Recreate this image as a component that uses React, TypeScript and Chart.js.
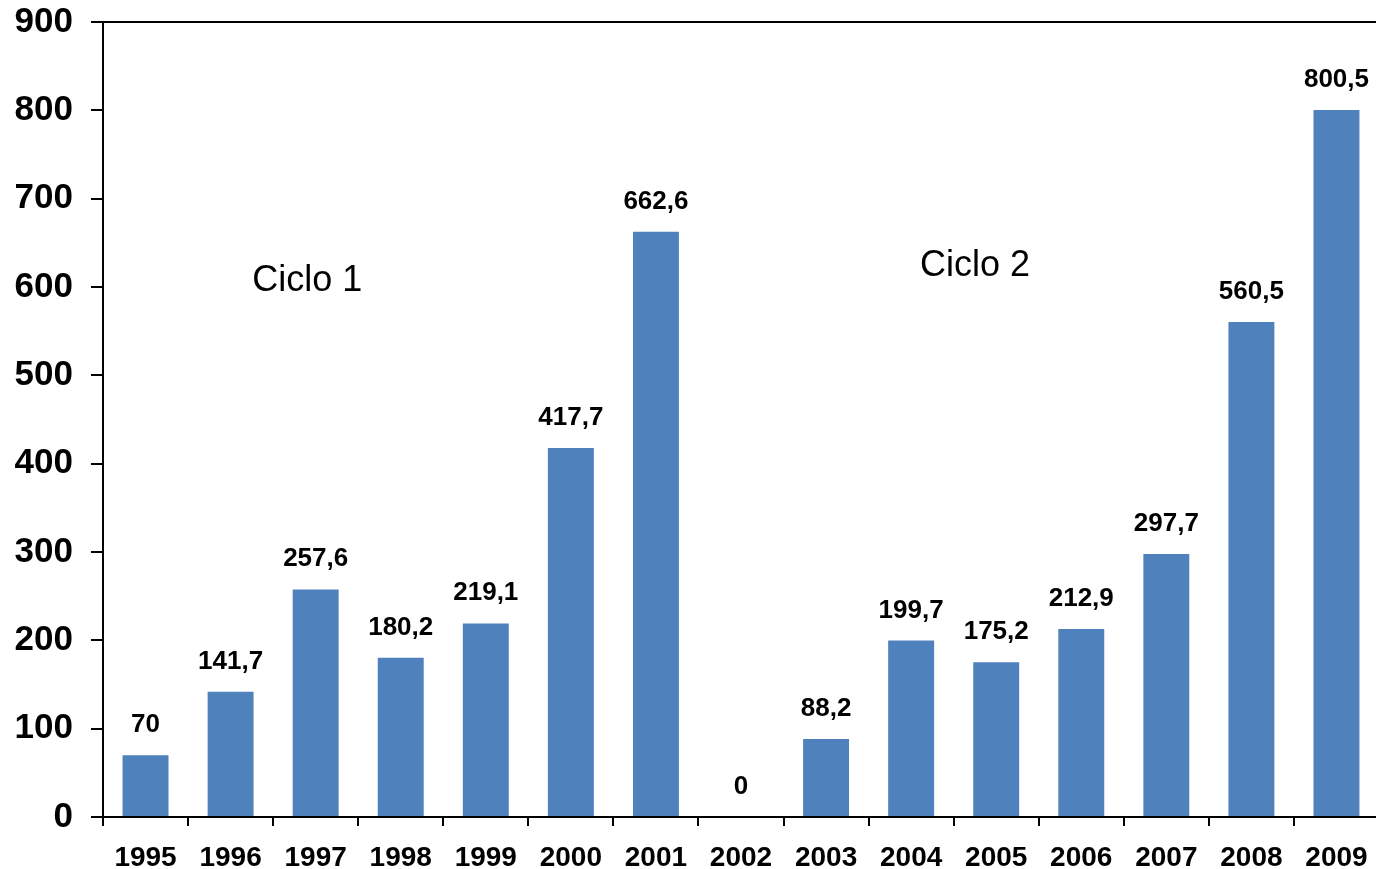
import React, { useEffect, useRef } from "react";
import { Chart, registerables } from "chart.js";

Chart.register(...registerables);

const years = ["1995", "1996", "1997", "1998", "1999", "2000", "2001", "2002", "2003", "2004", "2005", "2006", "2007", "2008", "2009"];
const values = [70, 141.7, 257.6, 180.2, 219.1, 417.7, 662.6, 0, 88.2, 199.7, 175.2, 212.9, 297.7, 560.5, 800.5];
const annotations = [
  { text: "Ciclo 1", index: 1.9, value: 607 },
  { text: "Ciclo 2", index: 9.75, value: 624 },
];

const FONT = '"Liberation Sans", Arial, Helvetica, sans-serif';

const labelPlugin = {
  id: "barLabels",
  afterDatasetsDraw(chart: any) {
    const ctx = chart.ctx;
    const meta = chart.getDatasetMeta(0);
    ctx.save();
    ctx.fillStyle = "#000";
    ctx.font = `bold 26px ${FONT}`;
    ctx.textAlign = "center";
    ctx.textBaseline = "alphabetic";
    meta.data.forEach((bar: any, i: number) => {
      const label = String(values[i]).replace(".", ",");
      ctx.fillText(label, bar.x, bar.y - 23);
    });
    ctx.font = `36px ${FONT}`;
    ctx.textBaseline = "middle";
    const xs = chart.scales.x;
    const ys = chart.scales.y;
    annotations.forEach((a) => {
      ctx.fillText(a.text, xs.getPixelForValue(a.index), ys.getPixelForValue(a.value));
    });
    const ca = chart.chartArea;
    ctx.strokeStyle = "#000";
    ctx.lineWidth = 2;
    ctx.beginPath();
    ctx.moveTo(ca.left - 12, ca.top);
    ctx.lineTo(chart.width, ca.top);
    ctx.stroke();
    ctx.restore();
  },
};

export default function App() {
  const ref = useRef<HTMLCanvasElement>(null);
  useEffect(() => {
    if (!ref.current) return;
    const chart = new Chart(ref.current, {
      type: "bar",
      data: {
        labels: years,
        datasets: [
          {
            data: values,
            backgroundColor: "#4F81BD",
            barPercentage: 0.54,
            categoryPercentage: 1,
          },
        ],
      },
      options: {
        responsive: false,
        animation: false,
        layout: { padding: { top: 22, right: 0, left: 0, bottom: 0 } },
        plugins: { legend: { display: false }, tooltip: { enabled: false } },
        scales: {
          x: {
            offset: true,
            grid: { offset: true, drawOnChartArea: false, color: "#000", lineWidth: 2, tickLength: 9, drawTicks: true },
            border: { color: "#000", width: 2 },
            ticks: { color: "#000", font: { family: FONT, size: 28, weight: "bold" }, padding: 15, maxRotation: 0, autoSkip: false },
            afterFit(scale: any) {
              scale.height = 52;
              scale.paddingLeft = 0;
              scale.paddingRight = 0;
            },
          },
          y: {
            min: 0,
            max: 900,
            grid: { drawOnChartArea: false, color: "#000", lineWidth: 2, tickLength: 12 },
            border: { color: "#000", width: 2 },
            ticks: { stepSize: 100, color: "#000", font: { family: FONT, size: 35, weight: "bold" }, padding: 18 },
            afterFit(scale: any) {
              scale.width = 103;
              scale.paddingTop = 0;
              scale.paddingBottom = 0;
            },
          },
        },
      },
      plugins: [labelPlugin],
    });
    return () => chart.destroy();
  }, []);
  return (
    <div style={{ position: "fixed", left: 0, top: 0, width: 1376, height: 869, background: "#fff", overflow: "hidden" }}>
      <canvas ref={ref} width={1379} height={869} style={{ display: "block" }} />
    </div>
  );
}
